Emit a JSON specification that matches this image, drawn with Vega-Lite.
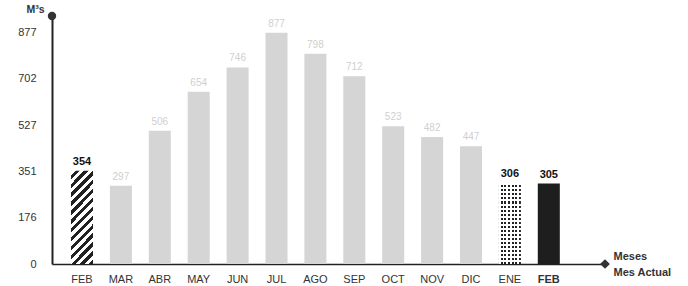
{
  "$schema": "https://vega.github.io/schema/vega-lite/v6.json",
  "width": 553,
  "height": 248,
  "autosize": "none",
  "padding": {"left": 52, "top": 16, "right": 83, "bottom": 22},
  "background": "white",
  "config": {"view": {"stroke": null}, "font": "Liberation Sans"},
  "data": {"values": [
    {"mes": "FEB (ant.)", "v": 354, "tipo": "anterior"},
    {"mes": "MAR", "v": 297, "tipo": "normal"},
    {"mes": "ABR", "v": 506, "tipo": "normal"},
    {"mes": "MAY", "v": 654, "tipo": "normal"},
    {"mes": "JUN", "v": 746, "tipo": "normal"},
    {"mes": "JUL", "v": 877, "tipo": "normal"},
    {"mes": "AGO", "v": 798, "tipo": "normal"},
    {"mes": "SEP", "v": 712, "tipo": "normal"},
    {"mes": "OCT", "v": 523, "tipo": "normal"},
    {"mes": "NOV", "v": 482, "tipo": "normal"},
    {"mes": "DIC", "v": 447, "tipo": "normal"},
    {"mes": "ENE", "v": 306, "tipo": "previo"},
    {"mes": "FEB", "v": 305, "tipo": "actual"}
  ]},
  "encoding": {
    "x": {"field": "mes", "type": "ordinal", "sort": null,
      "scale": {"paddingInner": 0.434, "paddingOuter": 0.825, "align": 0.296},
      "axis": {"labelAngle": 0, "ticks": false, "domainColor": "#222", "domainWidth": 1.5,
        "labelPadding": 9, "labelFontSize": 11, "labelColor": "#333",
        "labelExpr": "split(datum.value, ' ')[0]",
        "labelFontWeight": {"expr": "datum.value === 'FEB' ? 'bold' : 'normal'"},
        "title": ["Meses", "Mes Actual"], "titleAlign": "left", "titleAnchor": null,
        "titleX": 561, "titleY": -8, "titleBaseline": "middle", "titleLineHeight": 16,
        "titleFontSize": 11, "titleFontWeight": "bold", "titleColor": "#333"}},
    "y": {"field": "v", "type": "quantitative",
      "scale": {"domain": [0, 941], "nice": false},
      "axis": {"values": [0, 176, 351, 527, 702, 877], "ticks": false, "grid": false,
        "domainColor": "#222", "domainWidth": 2, "labelPadding": 16, "labelFontSize": 11,
        "labelColor": "#333", "title": "M³s", "titleAngle": 0, "titleAlign": "right",
        "titleX": -8, "titleY": -2, "titleBaseline": "bottom", "titleFontSize": 10.5,
        "titleFontWeight": "bold", "titleColor": "#333"}}
  },
  "layer": [
    {
      "mark": {"type": "bar"},
      "encoding": {
        "fill": {
          "condition": [
            {"test": "datum.tipo === 'anterior'", "value": {
              "gradient": "linear", "x1": 0, "y1": 0, "x2": 0.281, "y2": 1.1725,
              "stops": [
                {"offset": 0, "color": "white"}, {"offset": 0.0385, "color": "white"}, {"offset": 0.0385, "color": "#222"}, {"offset": 0.0769, "color": "#222"},
                {"offset": 0.0769, "color": "white"}, {"offset": 0.1154, "color": "white"}, {"offset": 0.1154, "color": "#222"}, {"offset": 0.1538, "color": "#222"},
                {"offset": 0.1538, "color": "white"}, {"offset": 0.1923, "color": "white"}, {"offset": 0.1923, "color": "#222"}, {"offset": 0.2308, "color": "#222"},
                {"offset": 0.2308, "color": "white"}, {"offset": 0.2692, "color": "white"}, {"offset": 0.2692, "color": "#222"}, {"offset": 0.3077, "color": "#222"},
                {"offset": 0.3077, "color": "white"}, {"offset": 0.3462, "color": "white"}, {"offset": 0.3462, "color": "#222"}, {"offset": 0.3846, "color": "#222"},
                {"offset": 0.3846, "color": "white"}, {"offset": 0.4231, "color": "white"}, {"offset": 0.4231, "color": "#222"}, {"offset": 0.4615, "color": "#222"},
                {"offset": 0.4615, "color": "white"}, {"offset": 0.5, "color": "white"}, {"offset": 0.5, "color": "#222"}, {"offset": 0.5385, "color": "#222"},
                {"offset": 0.5385, "color": "white"}, {"offset": 0.5769, "color": "white"}, {"offset": 0.5769, "color": "#222"}, {"offset": 0.6154, "color": "#222"},
                {"offset": 0.6154, "color": "white"}, {"offset": 0.6538, "color": "white"}, {"offset": 0.6538, "color": "#222"}, {"offset": 0.6923, "color": "#222"},
                {"offset": 0.6923, "color": "white"}, {"offset": 0.7308, "color": "white"}, {"offset": 0.7308, "color": "#222"}, {"offset": 0.7692, "color": "#222"},
                {"offset": 0.7692, "color": "white"}, {"offset": 0.8077, "color": "white"}, {"offset": 0.8077, "color": "#222"}, {"offset": 0.8462, "color": "#222"},
                {"offset": 0.8462, "color": "white"}, {"offset": 0.8846, "color": "white"}, {"offset": 0.8846, "color": "#222"}, {"offset": 0.9231, "color": "#222"},
                {"offset": 0.9231, "color": "white"}, {"offset": 0.9615, "color": "white"}, {"offset": 0.9615, "color": "#222"}, {"offset": 1, "color": "#222"}
              ]}},
            {"test": "datum.tipo === 'previo'", "value": {
              "gradient": "linear", "x1": 0, "y1": 0, "x2": 0, "y2": 1,
              "stops": [
                {"offset": 0, "color": "white"}, {"offset": 0.025, "color": "white"}, {"offset": 0.025, "color": "#222"}, {"offset": 0.05, "color": "#222"},
                {"offset": 0.05, "color": "white"}, {"offset": 0.075, "color": "white"}, {"offset": 0.075, "color": "#222"}, {"offset": 0.1, "color": "#222"},
                {"offset": 0.1, "color": "white"}, {"offset": 0.125, "color": "white"}, {"offset": 0.125, "color": "#222"}, {"offset": 0.15, "color": "#222"},
                {"offset": 0.15, "color": "white"}, {"offset": 0.175, "color": "white"}, {"offset": 0.175, "color": "#222"}, {"offset": 0.2, "color": "#222"},
                {"offset": 0.2, "color": "white"}, {"offset": 0.225, "color": "white"}, {"offset": 0.225, "color": "#222"}, {"offset": 0.25, "color": "#222"},
                {"offset": 0.25, "color": "white"}, {"offset": 0.275, "color": "white"}, {"offset": 0.275, "color": "#222"}, {"offset": 0.3, "color": "#222"},
                {"offset": 0.3, "color": "white"}, {"offset": 0.325, "color": "white"}, {"offset": 0.325, "color": "#222"}, {"offset": 0.35, "color": "#222"},
                {"offset": 0.35, "color": "white"}, {"offset": 0.375, "color": "white"}, {"offset": 0.375, "color": "#222"}, {"offset": 0.4, "color": "#222"},
                {"offset": 0.4, "color": "white"}, {"offset": 0.425, "color": "white"}, {"offset": 0.425, "color": "#222"}, {"offset": 0.45, "color": "#222"},
                {"offset": 0.45, "color": "white"}, {"offset": 0.475, "color": "white"}, {"offset": 0.475, "color": "#222"}, {"offset": 0.5, "color": "#222"},
                {"offset": 0.5, "color": "white"}, {"offset": 0.525, "color": "white"}, {"offset": 0.525, "color": "#222"}, {"offset": 0.55, "color": "#222"},
                {"offset": 0.55, "color": "white"}, {"offset": 0.575, "color": "white"}, {"offset": 0.575, "color": "#222"}, {"offset": 0.6, "color": "#222"},
                {"offset": 0.6, "color": "white"}, {"offset": 0.625, "color": "white"}, {"offset": 0.625, "color": "#222"}, {"offset": 0.65, "color": "#222"},
                {"offset": 0.65, "color": "white"}, {"offset": 0.675, "color": "white"}, {"offset": 0.675, "color": "#222"}, {"offset": 0.7, "color": "#222"},
                {"offset": 0.7, "color": "white"}, {"offset": 0.725, "color": "white"}, {"offset": 0.725, "color": "#222"}, {"offset": 0.75, "color": "#222"},
                {"offset": 0.75, "color": "white"}, {"offset": 0.775, "color": "white"}, {"offset": 0.775, "color": "#222"}, {"offset": 0.8, "color": "#222"},
                {"offset": 0.8, "color": "white"}, {"offset": 0.825, "color": "white"}, {"offset": 0.825, "color": "#222"}, {"offset": 0.85, "color": "#222"},
                {"offset": 0.85, "color": "white"}, {"offset": 0.875, "color": "white"}, {"offset": 0.875, "color": "#222"}, {"offset": 0.9, "color": "#222"},
                {"offset": 0.9, "color": "white"}, {"offset": 0.925, "color": "white"}, {"offset": 0.925, "color": "#222"}, {"offset": 0.95, "color": "#222"},
                {"offset": 0.95, "color": "white"}, {"offset": 0.975, "color": "white"}, {"offset": 0.975, "color": "#222"}, {"offset": 1, "color": "#222"}
              ]}},
            {"test": "datum.tipo === 'actual'", "value": "#1e1e1e"}
          ],
          "value": "#d5d5d5"
        }
      }
    },
    {
      "transform": [{"filter": "datum.tipo === 'previo'"}],
      "mark": {"type": "bar"},
      "encoding": {
        "fill": {"value": {
          "gradient": "linear", "x1": 0, "y1": 0, "x2": 1, "y2": 0,
          "stops": [
            {"offset": 0, "color": "white"}, {"offset": 0.0833, "color": "white"}, {"offset": 0.0833, "color": "rgba(255,255,255,0)"}, {"offset": 0.1667, "color": "rgba(255,255,255,0)"},
            {"offset": 0.1667, "color": "white"}, {"offset": 0.25, "color": "white"}, {"offset": 0.25, "color": "rgba(255,255,255,0)"}, {"offset": 0.3333, "color": "rgba(255,255,255,0)"},
            {"offset": 0.3333, "color": "white"}, {"offset": 0.4167, "color": "white"}, {"offset": 0.4167, "color": "rgba(255,255,255,0)"}, {"offset": 0.5, "color": "rgba(255,255,255,0)"},
            {"offset": 0.5, "color": "white"}, {"offset": 0.5833, "color": "white"}, {"offset": 0.5833, "color": "rgba(255,255,255,0)"}, {"offset": 0.6667, "color": "rgba(255,255,255,0)"},
            {"offset": 0.6667, "color": "white"}, {"offset": 0.75, "color": "white"}, {"offset": 0.75, "color": "rgba(255,255,255,0)"}, {"offset": 0.8333, "color": "rgba(255,255,255,0)"},
            {"offset": 0.8333, "color": "white"}, {"offset": 0.9167, "color": "white"}, {"offset": 0.9167, "color": "rgba(255,255,255,0)"}, {"offset": 1, "color": "rgba(255,255,255,0)"}
          ]}}
      }
    },
    {
      "transform": [{"filter": "datum.tipo === 'normal'"}],
      "mark": {"type": "text", "baseline": "bottom", "dy": -4, "fontSize": 10, "color": "#cfcfcf"},
      "encoding": {"text": {"field": "v", "type": "quantitative"}}
    },
    {
      "transform": [{"filter": "datum.tipo !== 'normal'"}],
      "mark": {"type": "text", "baseline": "bottom", "dy": -4, "fontSize": 11, "fontWeight": "bold", "color": "#111"},
      "encoding": {"text": {"field": "v", "type": "quantitative"}}
    },
    {
      "transform": [{"filter": "datum.mes === 'FEB (ant.)'"}],
      "mark": {"type": "point", "shape": "circle", "filled": true, "size": 70, "fill": "#333", "stroke": null, "opacity": 1, "clip": false},
      "encoding": {"x": {"value": 0}, "y": {"datum": 941}, "color": {"value": "#333"}}
    },
    {
      "transform": [{"filter": "datum.mes === 'FEB'"}],
      "mark": {"type": "point", "shape": "diamond", "filled": true, "size": 95, "fill": "#333", "stroke": null, "opacity": 1, "clip": false},
      "encoding": {"x": {"value": 553}, "y": {"datum": 0}, "color": {"value": "#333"}}
    }
  ]
}
